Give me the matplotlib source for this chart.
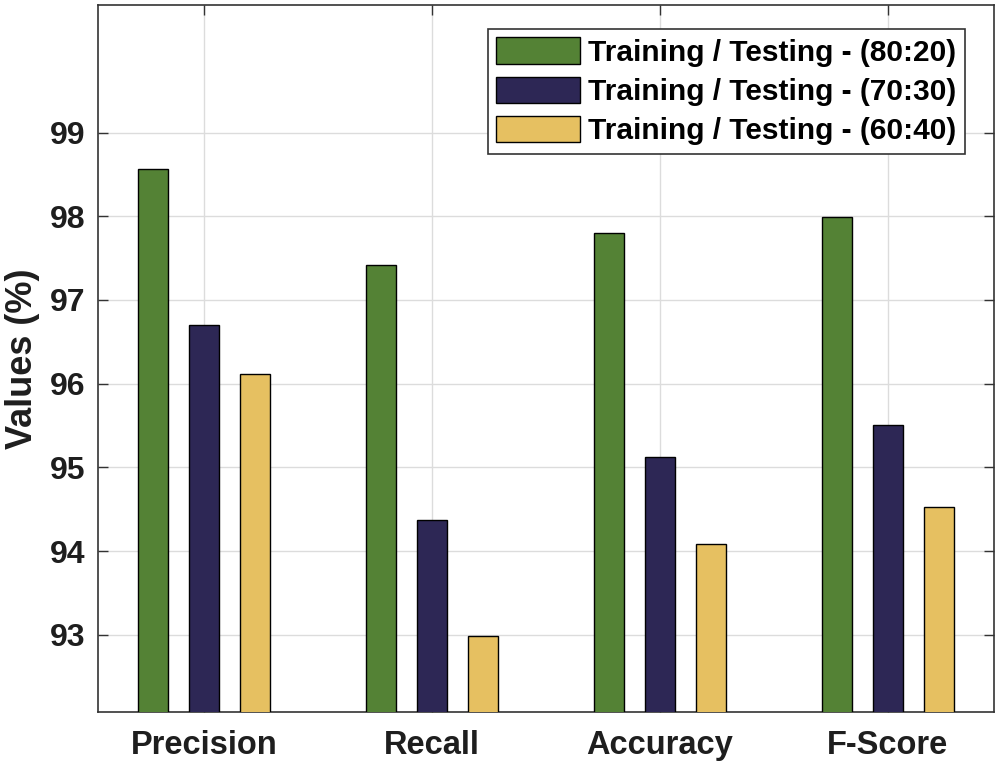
import matplotlib
matplotlib.use("Agg")
import matplotlib.pyplot as plt
import numpy as np

categories = ["Precision", "Recall", "Accuracy", "F-Score"]
series_labels = ["Training / Testing - (80:20)",
                 "Training / Testing - (70:30)",
                 "Training / Testing - (60:40)"]
vals_80_20 = [98.56, 97.42, 97.80, 97.99]
vals_70_30 = [96.70, 94.37, 95.12, 95.51]
vals_60_40 = [96.11, 92.98, 94.08, 94.52]
yticks = [93, 94, 95, 96, 97, 98, 99]

colors = ["#548235", "#2D2755", "#E6C061"]

plt.rcParams['font.family'] = ['Liberation Sans', 'DejaVu Sans']
plt.rcParams['font.weight'] = 'bold'

fig = plt.figure(figsize=(10, 7.73), dpi=100)
ax = fig.add_axes([0.098, 0.0793, 0.896, 0.9138])

x = np.arange(1, len(categories) + 1)
width = 0.134
offsets = [-0.223, 0.0, 0.223]
for vals, off, col, lab in zip([vals_80_20, vals_70_30, vals_60_40], offsets, colors, series_labels):
    ax.bar(x + off, np.array(vals) - 80, width=width, bottom=80, color=col,
           edgecolor='black', linewidth=1.0, label=lab, zorder=3)

ax.set_xlim(0.535, 4.465)
ax.set_ylim(92.08, 100.52)
ax.set_xticks(x)
ax.set_xticklabels(categories)
ax.set_yticks(yticks)
ax.set_yticklabels([str(v) for v in yticks])

for lab in ax.get_xticklabels():
    lab.set_fontsize(23.5)
    lab.set_fontweight('bold')
    lab.set_color('#1e1e1e')
for lab in ax.get_yticklabels():
    lab.set_fontsize(23)
    lab.set_fontweight('bold')
    lab.set_color('#1e1e1e')

ax.tick_params(axis='both', direction='in', length=7, width=1.0, color='#333333',
               top=True, right=True)
ax.tick_params(axis='x', pad=13)
ax.tick_params(axis='y', pad=9)

ax.grid(True, color='#dcdcdc', linewidth=1.0, zorder=0)
ax.set_axisbelow(True)
for s in ax.spines.values():
    s.set_color('#333333')
    s.set_linewidth(1.2)

ax.set_ylabel("Values (%)", fontsize=26, fontweight='bold', color='#1e1e1e', labelpad=7)

leg = ax.legend(loc='upper right', bbox_to_anchor=(0.9675, 0.9665),
                prop={'weight': 'bold', 'size': 21.5},
                handlelength=2.8, handleheight=0.98, handletextpad=0.28,
                labelspacing=0.33, borderpad=0.28, borderaxespad=0.0,
                frameon=True, fancybox=False, edgecolor='#333333', framealpha=1.0)
leg.get_frame().set_linewidth(1.2)

fig.savefig("out.png", dpi=100)
